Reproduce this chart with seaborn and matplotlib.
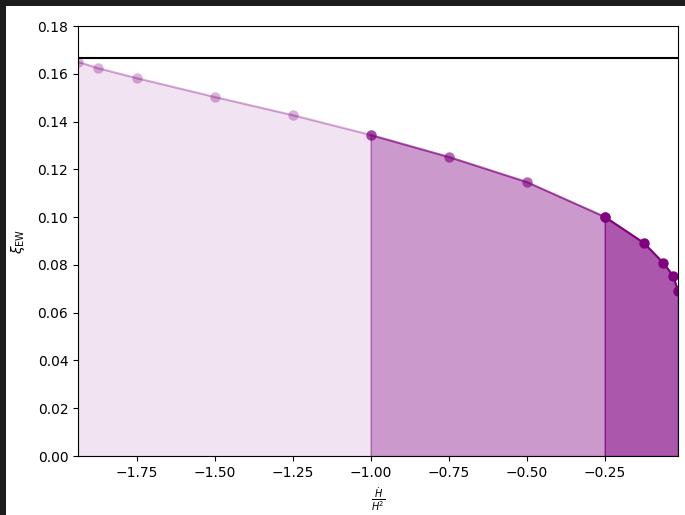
import matplotlib
matplotlib.use("Agg")
import matplotlib.pyplot as plt
import seaborn as sns
import numpy as np
from matplotlib.patches import Rectangle

# Data
hdot_over_h2 = [-1.9375, -1.875, -1.75, -1.5, -1.25, -1.0, -0.75, -0.5,
                -0.25, -0.125, -0.0625, -0.03125, -0.015625]
xi_ew = [0.165, 0.1624, 0.1582, 0.1503, 0.1427, 0.1344, 0.1252, 0.1147,
         0.1001, 0.0892, 0.0808, 0.0754, 0.0691]
segments = [(0, 6), (5, 9), (8, 13)]
line_alphas = [0.3, 0.6, 1.0]
fill_alphas = [0.11, 0.4, 0.66]
xi_ref = 1.0 / 6.0

W, H = 685, 515
fig = plt.figure(figsize=(W / 100, H / 100), dpi=100)
fig.patch.set_facecolor("#1c1c1c")
fig.add_artist(Rectangle((6 / W, 0), 1 - 6 / W, 1 - 6 / H, transform=fig.transFigure,
                         facecolor="white", edgecolor="none", zorder=-10))
ax = fig.add_axes([78 / W, (H - 456) / H, 600 / W, 430 / H])

x = np.array(hdot_over_h2)
y = np.array(xi_ew)
for (a, b), la, fa in zip(segments, line_alphas, fill_alphas):
    xs, ys = x[a:b], y[a:b]
    ax.fill_between(xs, 0, ys, color="purple", alpha=fa, linewidth=1.0)
    sns.lineplot(x=xs, y=ys, ax=ax, color="purple", alpha=la, marker="o",
                 markersize=7.5, markeredgewidth=0, linewidth=1.5)

ax.axhline(xi_ref, color="black", linewidth=1.5)
ax.set_xlim(x[0], x[-1])
ax.set_ylim(0, 0.18)
ax.set_xticks([-1.75, -1.5, -1.25, -1.0, -0.75, -0.5, -0.25])
ax.set_yticks(np.arange(0, 0.181, 0.02))
ax.set_xlabel(r"$\frac{\dot{H}}{H^2}$")
ax.set_ylabel(r"$\xi_{\rm EW}$", labelpad=7.5)

fig.savefig("out.png", dpi=100, facecolor=fig.get_facecolor())
